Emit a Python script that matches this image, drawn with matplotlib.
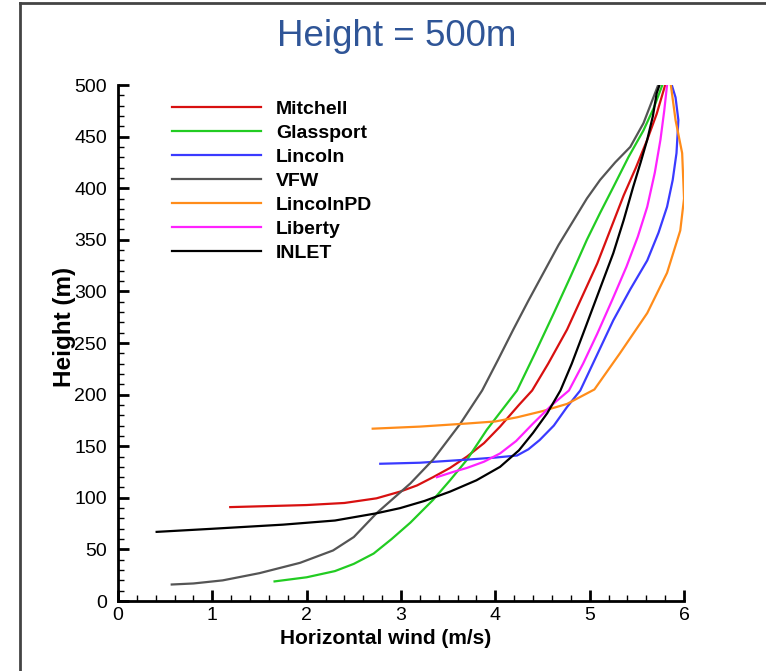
import matplotlib
matplotlib.use("Agg")
import matplotlib.pyplot as plt
from matplotlib.lines import Line2D
from matplotlib.ticker import MultipleLocator

plt.rcParams['font.family'] = ['Liberation Sans', 'DejaVu Sans']

# wind profiles: wind speed (m/s) and height (m)
mitchell_x = [1.19, 1.6, 2.0, 2.4, 2.74, 2.99, 3.17, 3.34, 3.52, 3.70, 3.88, 4.05, 4.25, 4.39,
              4.56, 4.76, 4.92, 5.08, 5.22, 5.36, 5.49, 5.61, 5.71, 5.80]
mitchell_h = [91, 92, 93, 95, 99.5, 106, 112, 120, 129, 140, 153, 169, 190, 204,
              230, 263, 295, 327, 360, 393, 420, 447, 472, 500]

glassport_x = [1.66, 2.0, 2.3, 2.5, 2.71, 2.9, 3.1, 3.34, 3.52, 3.7, 3.91, 4.07, 4.23, 4.42,
               4.62, 4.80, 4.97, 5.11, 5.25, 5.41, 5.57, 5.68, 5.77]
glassport_h = [19, 23, 29, 36, 46, 60, 76, 98, 117, 137, 166, 185, 204, 240,
               279, 315, 350, 376, 401, 430, 456, 478, 500]

lincoln_x = [2.78, 3.2, 3.7, 4.0, 4.23, 4.35, 4.47, 4.62, 4.76, 4.90, 5.07, 5.25, 5.43, 5.61,
             5.73, 5.82, 5.88, 5.92, 5.94, 5.91, 5.87]
lincoln_h = [133, 134, 137, 139, 141, 147, 156, 170, 188, 204, 237, 272, 302, 330,
             357, 382, 408, 434, 466, 488, 500]

vfw_x = [0.57, 0.8, 1.11, 1.5, 1.93, 2.28, 2.5, 2.74, 3.1, 3.34, 3.63, 3.86, 4.03, 4.19,
         4.35, 4.51, 4.67, 4.83, 4.97, 5.11, 5.27, 5.43, 5.57, 5.73]
vfw_h = [16, 17, 20, 27, 37, 49, 62, 85, 114, 137, 172, 204, 234, 263,
         291, 318, 345, 369, 390, 408, 425, 440, 463, 501]

lincolnpd_x = [2.70, 3.2, 3.7, 4.0, 4.23, 4.5, 4.76, 5.05, 5.32, 5.61, 5.82, 5.96, 6.0,
               5.98, 5.91, 5.86]
lincolnpd_h = [167, 169, 172, 174, 178, 184, 191, 205, 240, 279, 318, 359, 390,
               434, 466, 500]

liberty_x = [3.38, 3.55, 3.70, 3.88, 4.05, 4.22, 4.4, 4.6, 4.78, 4.93, 5.08, 5.24, 5.39,
             5.51, 5.61, 5.69, 5.75, 5.79, 5.82]
liberty_h = [120, 125, 129, 135, 143, 155, 172, 190, 204, 230, 259, 292, 324,
             353, 382, 415, 447, 475, 500]

inlet_x = [0.41, 1.0, 1.75, 2.3, 2.74, 2.99, 3.25, 3.52, 3.8, 4.05, 4.25, 4.4, 4.55, 4.69,
           4.81, 4.93, 5.09, 5.25, 5.36, 5.46, 5.54, 5.61, 5.67, 5.71, 5.74]
inlet_h = [67, 70, 74, 78, 85, 90, 97, 106, 117, 130, 146, 163, 182, 204,
           230, 259, 298, 337, 369, 401, 425, 447, 470, 492, 500]

names = ["Mitchell", "Glassport", "Lincoln", "VFW", "LincolnPD", "Liberty", "INLET"]
colors = ["#d81010", "#22cc22", "#3a3aff", "#555555", "#ff8c1a", "#ff22ff", "#000000"]
xs = [mitchell_x, glassport_x, lincoln_x, vfw_x, lincolnpd_x, liberty_x, inlet_x]
hs = [mitchell_h, glassport_h, lincoln_h, vfw_h, lincolnpd_h, liberty_h, inlet_h]

fig = plt.figure(figsize=(7.66, 6.71), dpi=100)
ax = fig.add_axes([0.154, 0.1043, 0.739, 0.769])

for x, h, c, n in zip(xs, hs, colors, names):
    ax.plot(x, h, color=c, lw=1.6, label=n, solid_joinstyle="round")

ax.set_xlim(0, 6)
ax.set_ylim(0, 500)
ax.xaxis.set_major_locator(MultipleLocator(1))
ax.xaxis.set_minor_locator(MultipleLocator(0.2))
ax.yaxis.set_major_locator(MultipleLocator(50))
ax.yaxis.set_minor_locator(MultipleLocator(10))
for s in ["top", "right"]:
    ax.spines[s].set_visible(False)
for s in ["left", "bottom"]:
    ax.spines[s].set_linewidth(2)
ax.tick_params(which="major", direction="in", length=8, width=2, labelsize=14)
ax.tick_params(axis="y", which="major", pad=8)
ax.tick_params(axis="x", which="major", pad=4)
ax.tick_params(which="minor", direction="in", length=4, width=1)

ax.set_xlabel("Horizontal wind (m/s)", fontsize=15, fontweight="bold", labelpad=4)
ax.xaxis.label.set_x(0.473)
ax.set_ylabel("Height (m)", fontsize=17.5, fontweight="bold")
ax.yaxis.set_label_coords(-0.074, 0.532)

leg = ax.legend(loc="upper left", bbox_to_anchor=(0.095, 0.971), frameon=False,
                handlelength=4.6, handletextpad=0.75, labelspacing=0.33,
                borderpad=0, borderaxespad=0, prop={"size": 14, "weight": "bold"})

fig.text(0.518, 0.945, "Height = 500m", fontsize=26.5, color="#2f5597",
         ha="center", va="center")

# frame around the slide
fig.add_artist(Line2D([20/766, 20/766], [0, 1 - 3/671], transform=fig.transFigure,
                      color="#444444", lw=2))
fig.add_artist(Line2D([20/766, 1], [1 - 3/671, 1 - 3/671], transform=fig.transFigure,
                      color="#444444", lw=2))

fig.savefig("out.png", dpi=100)
